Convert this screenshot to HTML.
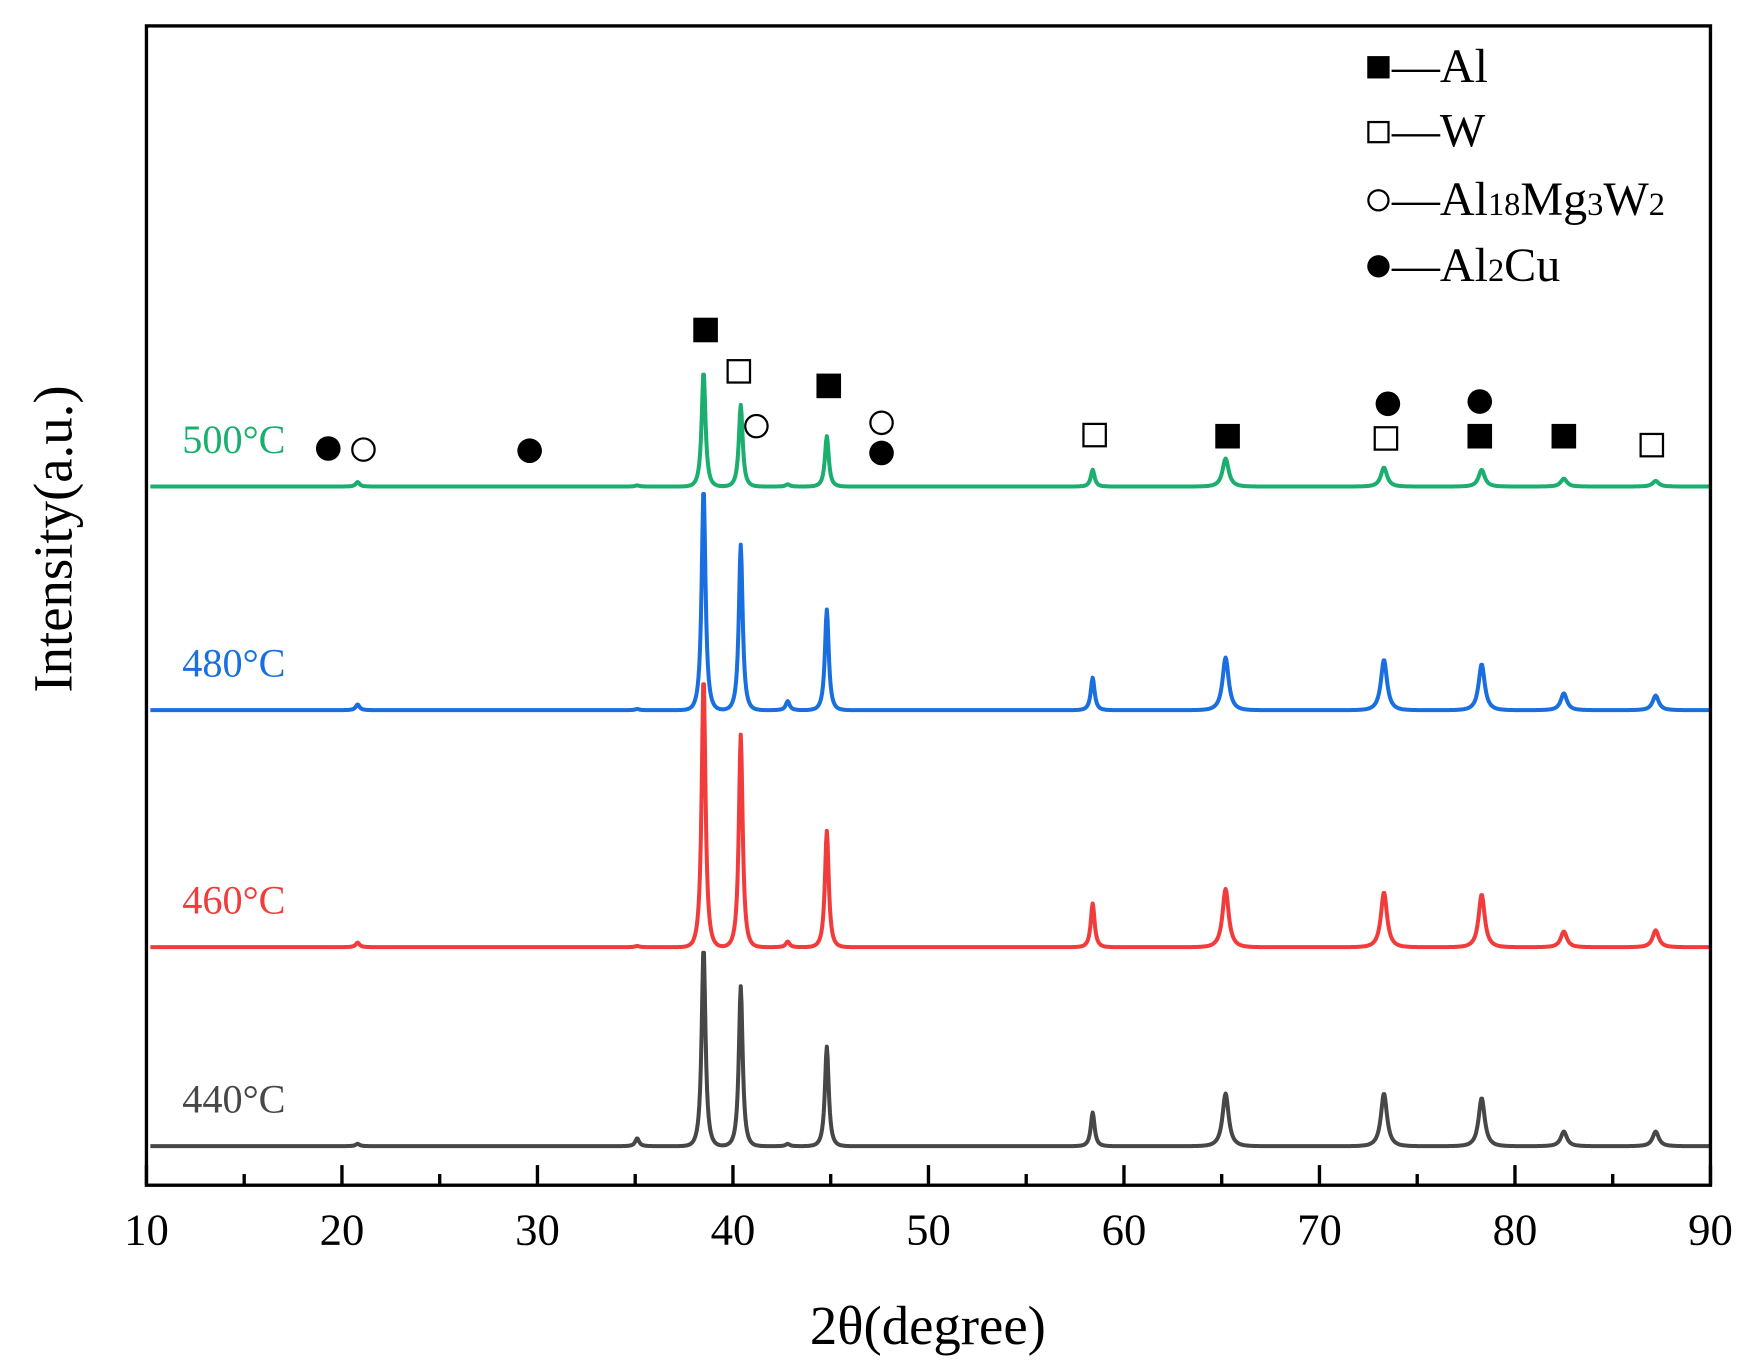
<!DOCTYPE html>
<html><head><meta charset="utf-8"><style>
html,body{margin:0;padding:0;background:#fff;}
svg{display:block;font-family:"Liberation Serif",serif;}
</style></head><body>
<svg id="chart" width="1744" height="1371" viewBox="0 0 1560 1226" xmlns="http://www.w3.org/2000/svg">
<g id="series"></g>
<g id="markers"></g>
<rect x="131" y="23" width="1399" height="1037" fill="none" stroke="#000" stroke-width="3"/>
<g id="axis"></g>
<text x="830" y="1202" font-size="49" text-anchor="middle">2θ(degree)</text>
<text x="0" y="0" font-size="49" text-anchor="middle" transform="translate(64,482) rotate(-90)">Intensity(a.u.)</text>
<g font-size="43">
<rect x="1223" y="50" width="20" height="20" fill="#000"/>
<text x="1245" y="73">—Al</text>
<rect x="1224" y="109" width="18" height="18" fill="none" stroke="#000" stroke-width="2"/>
<text x="1245" y="131">—W</text>
<circle cx="1233" cy="179" r="9" fill="none" stroke="#000" stroke-width="2"/>
<text x="1245" y="192">—Al<tspan font-size="29">18</tspan>Mg<tspan font-size="29">3</tspan>W<tspan font-size="29">2</tspan></text>
<circle cx="1233" cy="238" r="10" fill="#000"/>
<text x="1245" y="251">—Al<tspan font-size="29">2</tspan>Cu</text>
</g>
</svg>
<script>
const xTicks = [10,20,30,40,50,60,70,80,90];
const seriesNames = ['500°C','480°C','460°C','440°C'];
const seriesColors = ['#1aaf6e','#1a6fe0','#f23c3c','#474747'];
const seriesBaselines = [625,425,213,35];
const peakPositions = [38.5,40.4,44.8,58.4,65.2,73.3,78.3,82.5,87.2,42.8,20.8,35.1];
const peaks500 = [103,73,45,15,25,17,15,7,5,2,4,1];
const peaks480 = [199,148,90,29,47,45,41,15,13,8,5,1];
const peaks460 = [242,190,104,39,52,49,47,14,15,5,4,1];
const peaks440 = [178,143,89,30,47,47,43,13,13,2,2,7];
const seriesPeaks = [peaks500,peaks480,peaks460,peaks440];
const labelX = [163,163,163,163];
const labelOffset = [30,30,30,30];
const fSqX=[38.6,44.9,65.3,78.2,82.5], fSqY=[765,715,670,670,670];
const oSqX=[40.3,58.5,73.4,87.0], oSqY=[728,671,668,662];
const oCiX=[21.1,41.2,47.6], oCiY=[658,679,682];
const fCiX=[19.3,29.6,47.6,73.5,78.2], fCiY=[659,657,655,699,701];

const NS='http://www.w3.org/2000/svg';
const X0=131,X1=1530,Yb=1060;
function xs(v){return X0+(v-10)/80*(X1-X0);}
function ys(v){return Yb-v;}
function mk(tag,attrs,parent){const e=document.createElementNS(NS,tag);for(const k in attrs)e.setAttribute(k,attrs[k]);parent.appendChild(e);return e;}

const axis=document.getElementById('axis');
for(let t=10;t<=90;t+=5){
  const major=t%10===0;
  const tk=mk('line',{x1:xs(t),x2:xs(t),y1:Yb,y2:Yb-(major?18:10),stroke:'#000','stroke-width':3},axis);
  
  
}
xTicks.forEach(t=>{
  const tl=mk('text',{x:xs(t),y:1113,'font-size':40,'text-anchor':'middle'},axis);
  tl.textContent=t;
  
  
});

const sg=document.getElementById('series');
seriesPeaks.forEach((pk,i)=>{
  let d='';
  for(let x=10.2;x<=90.001;x+=0.04){
    let v=seriesBaselines[i];
    peakPositions.forEach((p,j)=>{const w=(p>60?0.24:0.15);const u=(x-p)/w;v+=pk[j]/(1+u*u*1.6)*Math.exp(-u*u*0.05);});
    d+=(d?'L':'M')+xs(x).toFixed(1)+','+ys(v).toFixed(1);
  }
  const pth=mk('path',{d:d,fill:'none',stroke:seriesColors[i],'stroke-width':3.6,'stroke-linejoin':'round'},sg);
  
  
  const lb=mk('text',{x:labelX[i],y:ys(seriesBaselines[i]+labelOffset[i]),'font-size':36,fill:seriesColors[i]},sg);
  lb.textContent=seriesNames[i];
  
  
});

const mg=document.getElementById('markers');
fSqX.forEach((x,i)=>{const e=mk('rect',{x:xs(x)-11,y:ys(fSqY[i])-11,width:22,height:22,fill:'#000'},mg);
  
  });
oSqX.forEach((x,i)=>{const e=mk('rect',{x:xs(x)-10,y:ys(oSqY[i])-10,width:20,height:20,fill:'none',stroke:'#000','stroke-width':2},mg);
  
  });
oCiX.forEach((x,i)=>{const e=mk('circle',{cx:xs(x),cy:ys(oCiY[i]),r:10,fill:'none',stroke:'#000','stroke-width':2},mg);
  
  });
fCiX.forEach((x,i)=>{const e=mk('circle',{cx:xs(x),cy:ys(fCiY[i]),r:11,fill:'#000'},mg);
  
  });
</script>
</body></html>
